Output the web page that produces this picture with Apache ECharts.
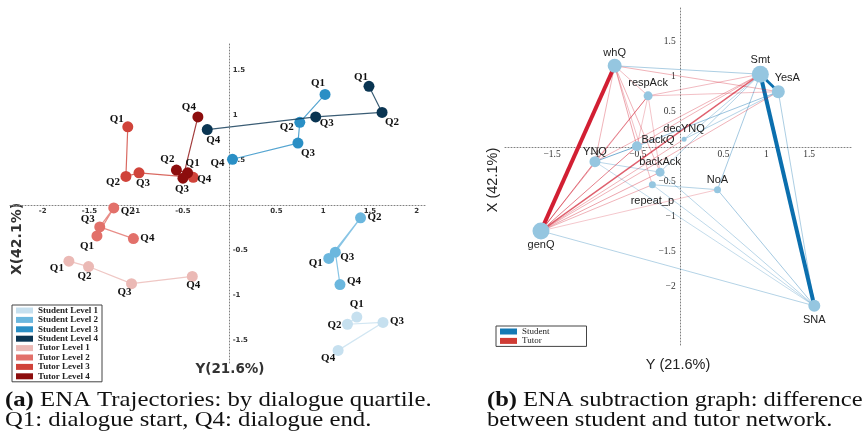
<!DOCTYPE html>
<html><head><meta charset="utf-8">
<script src="https://cdn.jsdelivr.net/npm/echarts@6/dist/echarts.min.js"></script>
<style>html,body{margin:0;padding:0;background:#fff}#c{width:863px;height:439px}</style>
</head><body><div id="c"></div>
<script>
// ---------- (a) ENA trajectories: data ----------
const quartiles = ['Q1', 'Q2', 'Q3', 'Q4'];
const trajNames = ['Student Level 1', 'Student Level 2', 'Student Level 3', 'Student Level 4',
                   'Tutor Level 1', 'Tutor Level 2', 'Tutor Level 3', 'Tutor Level 4'];
const studentLevel1 = [[1.36, -1.24], [1.26, -1.32], [1.64, -1.30], [1.16, -1.61]];
const studentLevel2 = [[1.06, -0.59], [1.40, -0.14], [1.13, -0.52], [1.18, -0.88]];
const studentLevel3 = [[1.02, 1.23], [0.75, 0.92], [0.73, 0.69], [0.03, 0.51]];
const studentLevel4 = [[1.49, 1.32], [1.63, 1.03], [0.92, 0.98], [-0.24, 0.84]];
const tutorLevel1 = [[-1.72, -0.62], [-1.51, -0.68], [-1.05, -0.87], [-0.40, -0.79]];
const tutorLevel2 = [[-1.42, -0.34], [-1.24, -0.03], [-1.39, -0.24], [-1.03, -0.37]];
const tutorLevel3 = [[-1.09, 0.87], [-1.11, 0.32], [-0.97, 0.36], [-0.39, 0.31]];
const tutorLevel4 = [[-0.45, 0.36], [-0.57, 0.39], [-0.50, 0.30], [-0.34, 0.98]];
const trajXTicks = [-2, -1.5, -1, -0.5, 0.5, 1, 1.5, 2];
const trajYTicks = [-1.5, -1, -0.5, 0.5, 1, 1.5];

// ---------- (b) ENA subtraction graph: data ----------
const nodeNames  = ['whQ', 'Smt', 'YesA', 'respAck', 'decYNQ', 'BackQ', 'YNQ', 'backAck', 'repeat_p', 'NoA', 'genQ', 'SNA'];
const nodeX      = [-0.77, 0.93, 1.14, -0.38, 0.04, -0.51, -1.00, -0.24, -0.33, 0.43, -1.63, 1.56];
const nodeY      = [1.16, 1.04, 0.79, 0.73, 0.11, 0.01, -0.21, -0.36, -0.54, -0.61, -1.20, -2.27];
const nodeWeight = [14, 17, 13, 9, 5, 10, 11, 9, 7, 7, 17, 12];
const tutorEdges = [
  ['genQ', 'whQ', 1.0], ['genQ', 'Smt', 0.35], ['genQ', 'YNQ', 0.25], ['genQ', 'BackQ', 0.25],
  ['genQ', 'respAck', 0.2], ['genQ', 'backAck', 0.2], ['genQ', 'repeat_p', 0.15], ['genQ', 'decYNQ', 0.15],
  ['genQ', 'YesA', 0.15], ['genQ', 'NoA', 0.07], ['whQ', 'BackQ', 0.2], ['whQ', 'YNQ', 0.15],
  ['whQ', 'backAck', 0.15], ['whQ', 'respAck', 0.12], ['whQ', 'YesA', 0.15], ['whQ', 'repeat_p', 0.1],
  ['YNQ', 'respAck', 0.2], ['YNQ', 'Smt', 0.15], ['BackQ', 'Smt', 0.15], ['respAck', 'Smt', 0.12],
  ['respAck', 'YesA', 0.1], ['respAck', 'backAck', 0.08], ['respAck', 'BackQ', 0.08]
];
const studentEdges = [
  ['Smt', 'SNA', 1.0], ['Smt', 'YesA', 0.7], ['whQ', 'Smt', 0.15], ['genQ', 'SNA', 0.12],
  ['YesA', 'SNA', 0.15], ['NoA', 'SNA', 0.18], ['NoA', 'Smt', 0.18], ['NoA', 'repeat_p', 0.12],
  ['backAck', 'SNA', 0.1], ['repeat_p', 'SNA', 0.08], ['YNQ', 'SNA', 0.06], ['YesA', 'BackQ', 0.2],
  ['BackQ', 'YNQ', 0.25], ['YesA', 'decYNQ', 0.12], ['Smt', 'backAck', 0.12], ['Smt', 'decYNQ', 0.1],
  ['YNQ', 'backAck', 0.1]
];
const graphXTicks = [-1.5, -1, -0.5, 0.5, 1, 1.5];
const graphYTicks = [-2, -1.5, -1, -0.5, 0.5, 1, 1.5];

// ---------- layout / style (not data) ----------
const serif = '"Liberation Serif","Times New Roman",serif';
const sans = '"Liberation Sans",Arial,sans-serif';
const dejavu = '"DejaVu Sans",sans-serif';
const trajColors = ['#c6e0ef', '#6bb7de', '#2a8fc5', '#0a3552', '#ebb9b5', '#e2706a', '#d0433a', '#8c0d0d'];
const trajLabelOffsets = [
  [[0, -13], [-13, 1], [14, -1], [-10, 8]],
  [[-13, 5], [14, -1], [12, 5], [14, -3]],
  [[-7, -11], [-13, 5], [10, 10], [-15, 4]],
  [[-8, -9], [10, 10], [11, 6], [6, 11]],
  [[-12, 7], [-4, 10], [-7, 8], [1, 9]],
  [[-10, 10], [14, 3], [-12, -8], [14, 0]],
  [[-11, -8], [-13, 6], [4, 10], [11, 2]],
  [[5, -10], [-9, -11], [-1, 11], [-9, -10]]
];
const nodeLabelOffsets = {
  whQ: [0, -13], Smt: [0, -14], YesA: [9, -14], respAck: [0, -13], decYNQ: [0, -10], BackQ: [21, -6],
  YNQ: [0, -10], backAck: [0, -10], repeat_p: [0, 16], NoA: [0, -10], genQ: [0, 14], SNA: [0, 14]
};
const gridA = { left: 10, top: 43, width: 416, height: 320 };
const gridB = { left: 505, top: 7, width: 347, height: 338 };
const rangeA = { xMin: -2.35, xMax: 2.1, yMin: -1.75, yMax: 1.8 };
const rangeB = { xMin: -2.05, xMax: 2.0, yMin: -2.83, yMax: 2.0 };
// shift axes from grid edge to the zero crossing (cross-hair axes)
const zeroShiftX = (g, r) => -(0 - r.yMin) / (r.yMax - r.yMin) * g.height;
const zeroShiftY = (g, r) => -(0 - r.xMin) / (r.xMax - r.xMin) * g.width;

const trajData = [studentLevel1, studentLevel2, studentLevel3, studentLevel4,
                  tutorLevel1, tutorLevel2, tutorLevel3, tutorLevel4];

const dottedLine = { show: true, onZero: false, lineStyle: { color: '#808080', type: [1, 2], width: 1 } };
const minus = v => (v < 0 ? '\u2212' + String(-v) : String(v));

function nodePos(n) { const i = nodeNames.indexOf(n); return [nodeX[i], nodeY[i]]; }
function edgeSeries(name, edges, color) {
  const sorted = edges.slice().sort((a, b) => a[2] - b[2]);
  return {
    type: 'lines', name, coordinateSystem: 'cartesian2d', xAxisIndex: 1, yAxisIndex: 1,
    silent: true, z: 2, lineStyle: { color },
    itemStyle: { color },
    data: sorted.map(([a, b, w]) => ({
      coords: [nodePos(a), nodePos(b)],
      lineStyle: { color, width: Math.max(0.8, w * 4), opacity: Math.min(1, 0.22 + w * 1.4) }
    }))
  };
}

const series = [];
trajData.forEach((pts, i) => {
  series.push({
    type: 'line', name: trajNames[i], xAxisIndex: 0, yAxisIndex: 0,
    symbol: 'circle', symbolSize: 11, z: 3 + i,
    itemStyle: { color: trajColors[i] },
    lineStyle: { color: trajColors[i], width: 1.2, opacity: 0.8 },
    emphasis: { disabled: true },
    label: {
      show: true, position: 'inside', fontFamily: serif, fontWeight: 'bold', fontSize: 11, color: '#111',
      formatter: p => quartiles[p.dataIndex]
    },
    data: pts.map((p, j) => ({ value: p, name: quartiles[j], label: { offset: trajLabelOffsets[i][j] } }))
  });
});
series.push(edgeSeries('Student', studentEdges, '#0b6fae'));
series.push(edgeSeries('Tutor', tutorEdges, '#d21f33'));
series.push({
  type: 'scatter', name: 'nodes', xAxisIndex: 1, yAxisIndex: 1, z: 5,
  symbolSize: v => v[2],
  itemStyle: { color: '#95c6e0', opacity: 1 },
  emphasis: { disabled: true },
  label: { show: true, position: 'inside', formatter: '{b}', fontFamily: sans, fontSize: 11, color: '#222' },
  data: nodeNames.map((n, i) => ({ name: n, value: [nodeX[i], nodeY[i], nodeWeight[i]], label: { offset: nodeLabelOffsets[n] } }))
});

const option = {
  animation: false,
  backgroundColor: '#fff',
  grid: [gridA, gridB],
  xAxis: [
    { type: 'value', gridIndex: 0, min: rangeA.xMin, max: rangeA.xMax, offset: zeroShiftX(gridA, rangeA),
      axisLine: dottedLine, axisTick: { show: false }, splitLine: { show: false },
      axisLabel: { customValues: trajXTicks, margin: 2, fontFamily: dejavu, fontWeight: 'bold', fontSize: 7, color: '#333' } },
    { type: 'value', gridIndex: 1, min: rangeB.xMin, max: rangeB.xMax, offset: zeroShiftX(gridB, rangeB),
      axisLine: dottedLine, axisTick: { show: false }, splitLine: { show: false },
      axisLabel: { customValues: graphXTicks, margin: 3, fontFamily: serif, fontSize: 9.5, color: '#333', formatter: minus } }
  ],
  yAxis: [
    { type: 'value', gridIndex: 0, min: rangeA.yMin, max: rangeA.yMax, offset: zeroShiftY(gridA, rangeA),
      axisLine: dottedLine, axisTick: { show: false }, splitLine: { show: false },
      axisLabel: { customValues: trajYTicks, inside: true, margin: 3, fontFamily: dejavu, fontWeight: 'bold', fontSize: 7, color: '#333' } },
    { type: 'value', gridIndex: 1, min: rangeB.yMin, max: rangeB.yMax, offset: zeroShiftY(gridB, rangeB),
      axisLine: dottedLine, axisTick: { show: false }, splitLine: { show: false },
      axisLabel: { customValues: graphYTicks, margin: 5, fontFamily: serif, fontSize: 9.5, color: '#333', formatter: minus } }
  ],
  legend: [
    { data: trajNames, left: 12, top: 305, orient: 'vertical', icon: 'rect', itemWidth: 17, itemHeight: 6, itemGap: 0.4,
      padding: [1, 4, 1, 4], borderColor: '#444', borderWidth: 1, selectedMode: false,
      textStyle: { fontFamily: serif, fontWeight: 'bold', fontSize: 9, color: '#222', lineHeight: 7.4 } },
    { data: [{ name: 'Student', itemStyle: { color: '#1479b4' } }, { name: 'Tutor', itemStyle: { color: '#cf3b34' } }],
      left: 496, top: 326, orient: 'vertical', icon: 'rect', itemWidth: 17, itemHeight: 6, itemGap: 0.4,
      padding: [1, 37, 1, 4], borderColor: '#444', borderWidth: 1, selectedMode: false,
      textStyle: { fontFamily: serif, fontSize: 9, color: '#222', lineHeight: 7.6 } }
  ],
  graphic: [
    { type: 'text', x: 17, y: 239, rotation: Math.PI / 2,
      style: { text: 'X(42.1%)', fontFamily: dejavu, fontWeight: 'bold', fontSize: 14, fill: '#333', align: 'center', verticalAlign: 'middle' } },
    { type: 'text', x: 230, y: 369,
      style: { text: 'Y(21.6%)', fontFamily: dejavu, fontWeight: 'bold', fontSize: 13.5, fill: '#333', align: 'center', verticalAlign: 'middle' } },
    { type: 'text', x: 493, y: 180, rotation: Math.PI / 2,
      style: { text: 'X (42.1%)', fontFamily: sans, fontSize: 14.5, fill: '#222', align: 'center', verticalAlign: 'middle' } },
    { type: 'text', x: 678, y: 365,
      style: { text: 'Y (21.6%)', fontFamily: sans, fontSize: 14.5, fill: '#222', align: 'center', verticalAlign: 'middle' } },
    { type: 'text', x: 5, y: 400, scaleX: 1.125,
      style: { text: '{b|(a)} ENA Trajectories: by dialogue quartile.', fontFamily: serif, fontSize: 22, fill: '#111', verticalAlign: 'middle',
        rich: { b: { fontFamily: serif, fontSize: 22, fontWeight: 'bold', fill: '#111' } } } },
    { type: 'text', x: 5, y: 420, scaleX: 1.125,
      style: { text: 'Q1: dialogue start, Q4: dialogue end.', fontFamily: serif, fontSize: 22, fill: '#111', verticalAlign: 'middle' } },
    { type: 'text', x: 487, y: 400, scaleX: 1.115,
      style: { text: '{b|(b)} ENA subtraction graph: difference', fontFamily: serif, fontSize: 22, fill: '#111', verticalAlign: 'middle',
        rich: { b: { fontFamily: serif, fontSize: 22, fontWeight: 'bold', fill: '#111' } } } },
    { type: 'text', x: 487, y: 420, scaleX: 1.115,
      style: { text: 'between student and tutor network.', fontFamily: serif, fontSize: 22, fill: '#111', verticalAlign: 'middle' } }
  ],
  series
};

const chart = echarts.init(document.getElementById('c'), null, { renderer: 'canvas' });
chart.setOption(option);
</script>
</body></html>
